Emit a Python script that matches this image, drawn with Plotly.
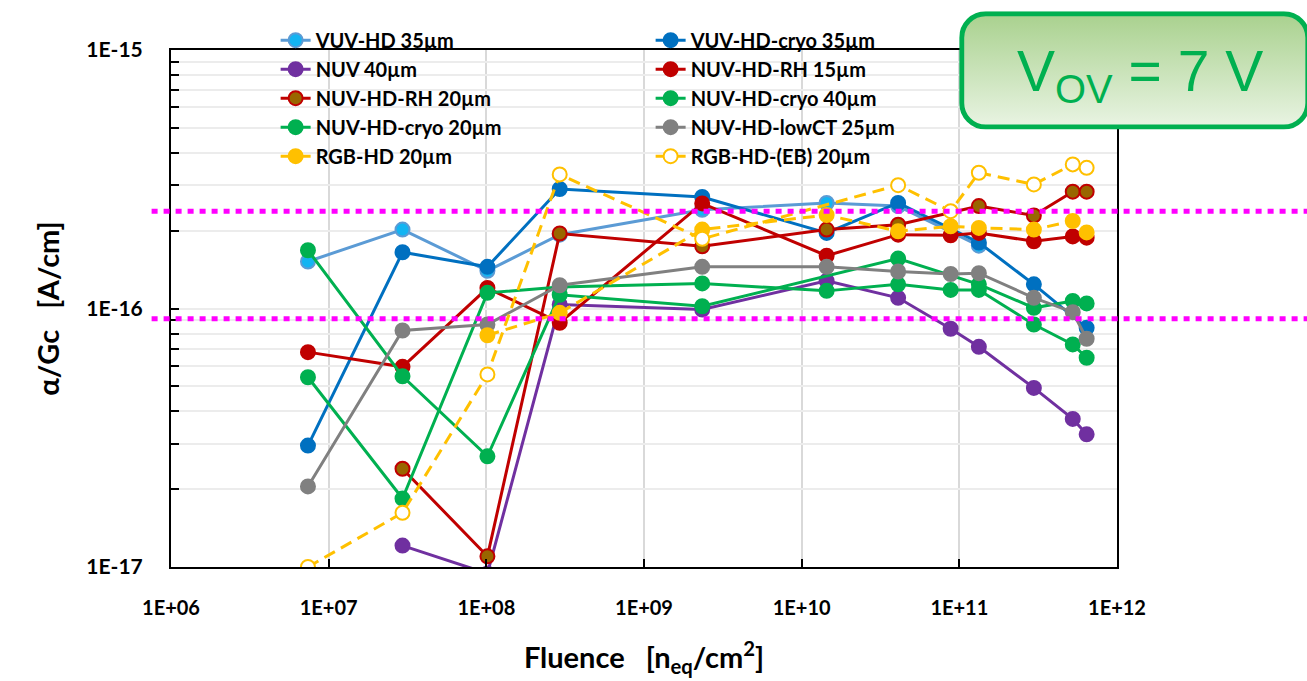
import base64
import plotly.graph_objects as go

# Fluence points [n_eq/cm^2]
fluence = [7.39e6, 2.94e7, 1.016e8, 2.92e8, 2.34e9, 1.44e10,
           4.09e10, 8.81e10, 1.33e11, 2.97e11, 5.24e11, 6.42e11]

# alpha/Gc [A/cm] per device (None = not measured)
vuv_hd_35 = [1.52e-16, 2.02e-16, 1.40e-16, 1.93e-16, 2.41e-16, 2.56e-16,
             2.49e-16, None, 1.75e-16, None, None, None]
vuv_hd_cryo_35 = [2.95e-17, 1.65e-16, 1.45e-16, 2.90e-16, 2.70e-16, 1.96e-16,
                  2.56e-16, None, 1.80e-16, 1.24e-16, None, 8.42e-17]
nuv_40 = [None, 1.21e-17, 9.44e-18, 1.036e-16, 9.91e-17, 1.28e-16,
          1.10e-16, 8.35e-17, 7.11e-17, 4.93e-17, 3.74e-17, 3.26e-17]
nuv_hd_rh_15 = [6.78e-17, 5.95e-17, 1.20e-16, 8.81e-17, 2.55e-16, 1.60e-16,
                1.93e-16, 1.92e-16, 1.96e-16, 1.82e-16, 1.90e-16, 1.88e-16]
nuv_hd_rh_20 = [None, 2.40e-17, 1.10e-17, 1.95e-16, 1.74e-16, 2.02e-16,
                2.11e-16, None, 2.49e-16, 2.29e-16, 2.83e-16, 2.83e-16]
nuv_hd_cryo_40 = [1.68e-16, 5.47e-17, 2.68e-17, 1.13e-16, 1.02e-16, None,
                  1.56e-16, None, 1.24e-16, 1.006e-16, 1.07e-16, 1.046e-16]
nuv_hd_cryo_20 = [5.42e-17, 1.84e-17, 1.15e-16, 1.21e-16, 1.25e-16, 1.17e-16,
                  1.24e-16, 1.18e-16, 1.18e-16, 8.67e-17, 7.26e-17, 6.45e-17]
nuv_hd_lowct_25 = [2.05e-17, 8.22e-17, 8.67e-17, 1.23e-16, 1.45e-16, 1.45e-16,
                   1.39e-16, 1.36e-16, 1.37e-16, 1.10e-16, 9.68e-17, 7.64e-17]
rgb_hd_20 = [None, None, 7.88e-17, 9.62e-17, 2.02e-16, 2.30e-16,
             1.99e-16, 2.08e-16, 2.05e-16, 2.02e-16, 2.18e-16, 1.97e-16]
rgb_hd_eb_20 = [1.0e-17, 1.62e-17, 5.56e-17, 3.30e-16, 1.86e-16, None,
                3.0e-16, 2.38e-16, 3.35e-16, 3.02e-16, 3.61e-16, 3.50e-16]

# Reference band levels
band_levels = [2.38e-16, 9.13e-17]

x_tick_vals = [1e6, 1e7, 1e8, 1e9, 1e10, 1e11, 1e12]
x_tick_text = ["1E+06", "1E+07", "1E+08", "1E+09", "1E+10", "1E+11", "1E+12"]
y_major = {1e-17: "1E-17", 1e-16: "1E-16", 1e-15: "1E-15"}

FONT = "Lato"

series = [
    # name, values, line colour, marker fill, marker outline, dash
    ("VUV-HD 35µm", vuv_hd_35, "#5b9bd5", "#13b4f2", "#5b9bd5", "solid"),
    ("VUV-HD-cryo 35µm", vuv_hd_cryo_35, "#0070c0", "#0070c0", "#0070c0", "solid"),
    ("NUV 40µm", nuv_40, "#7030a0", "#7030a0", "#7030a0", "solid"),
    ("NUV-HD-RH 15µm", nuv_hd_rh_15, "#c00000", "#c00000", "#c00000", "solid"),
    ("NUV-HD-RH 20µm", nuv_hd_rh_20, "#c00000", "#996600", "#c00000", "solid"),
    ("NUV-HD-cryo 40µm", nuv_hd_cryo_40, "#00b050", "#00b050", "#00b050", "solid"),
    ("NUV-HD-cryo 20µm", nuv_hd_cryo_20, "#00b050", "#00b050", "#00b050", "solid"),
    ("NUV-HD-lowCT 25µm", nuv_hd_lowct_25, "#808080", "#808080", "#808080", "solid"),
    ("RGB-HD 20µm", rgb_hd_20, "#ffc000", "#ffc000", "#ffc000", "12px,7px"),
    ("RGB-HD-(EB) 20µm", rgb_hd_eb_20, "#ffc000", "#ffffff", "#ffc000", "12px,7px"),
]

fig = go.Figure()
for name, vals, lcol, mfill, mline, dash in series:
    fig.add_trace(go.Scatter(
        x=fluence, y=vals, name=name, mode="lines+markers",
        connectgaps=True,
        line=dict(color=lcol, width=3, dash=dash),
        marker=dict(size=14, color=mfill, line=dict(color=mline, width=2)),
    ))

# Dotted magenta band limits, running past the plot frame
for lvl in band_levels:
    fig.add_shape(type="line", xref="paper", yref="y",
                  x0=-0.0205, x1=1.21, y0=lvl, y1=lvl,
                  line=dict(color="#ff00ff", width=5, dash="6px,6px"),
                  layer="above")

# Y ticks at every 1..9 step of each decade, labels only on decades
y_tick_vals, y_tick_text = [], []
for e in (-17, -16):
    for m in range(1, 10):
        v = m * 10.0 ** e
        y_tick_vals.append(v)
        y_tick_text.append(y_major.get(v, "") if m == 1 else "")
y_tick_vals.append(1e-15)
y_tick_text.append("1E-15")

# Rounded, gradient-filled label box
box_svg = (
    "<svg xmlns='http://www.w3.org/2000/svg' width='351' height='118' viewBox='0 0 351 118'>"
    "<defs><linearGradient id='g' x1='0' y1='0' x2='0' y2='1'>"
    "<stop offset='0' stop-color='#a9d18e'/><stop offset='1' stop-color='#e9f4e3'/>"
    "</linearGradient></defs>"
    "<rect x='2.5' y='2.5' width='346' height='113' rx='24' ry='24' fill='url(#g)' "
    "stroke='#00b050' stroke-width='5'/></svg>"
)
box_src = "data:image/svg+xml;base64," + base64.b64encode(box_svg.encode()).decode()
fig.add_layout_image(dict(source=box_src, xref="paper", yref="paper",
                          x=0.8332, y=1.0751, sizex=0.3712, sizey=0.2288,
                          xanchor="left", yanchor="top", sizing="stretch",
                          layer="above"))
fig.add_annotation(xref="paper", yref="paper", x=1.0243, y=0.952,
                   text="V<sub>OV</sub> = 7 V", showarrow=False,
                   font=dict(family="Liberation Sans", size=57, color="#00b050"),
                   xanchor="center", yanchor="middle")

fig.update_layout(
    width=1307, height=681, autosize=False,
    margin=dict(l=171, r=190, t=50, b=114, autoexpand=False),
    paper_bgcolor="white", plot_bgcolor="white",
    font=dict(family=FONT, color="black"),
    showlegend=True,
    legend=dict(orientation="h", x=0.1106, y=1.0567, xanchor="left", yanchor="top",
                entrywidth=330, entrywidthmode="pixels",
                bgcolor="rgba(0,0,0,0)",
                font=dict(family=FONT, size=20, weight="bold", color="black"),
                traceorder="normal"),
    xaxis=dict(type="log", range=[6, 12],
               tickvals=x_tick_vals, ticktext=x_tick_text,
               ticks="inside", ticklen=8, tickwidth=2, tickcolor="black",
               ticklabelstandoff=22,
               showgrid=True, gridcolor="#d9d9d9", gridwidth=2,
               showline=True, linecolor="black", linewidth=2, mirror=True,
               tickfont=dict(family=FONT, size=20, weight="bold"),
               title=dict(text="Fluence\u00a0\u00a0 [n<sub>eq</sub>/cm<sup>2</sup>]",
                          font=dict(family=FONT, size=29, weight="bold"),
                          standoff=30),
               zeroline=False),
    yaxis=dict(type="log", range=[-17, -15],
               tickvals=y_tick_vals, ticktext=y_tick_text,
               ticks="inside", ticklen=8, tickwidth=2, tickcolor="black",
               ticklabelstandoff=22,
               showgrid=True, gridcolor="#ececec", gridwidth=2,
               showline=True, linecolor="black", linewidth=2, mirror=True,
               tickfont=dict(family=FONT, size=21, weight="bold"),
               title=dict(text="α/Gc\u00a0\u00a0 [A/cm]",
                          font=dict(family=FONT, size=29, weight="bold"),
                          standoff=18),
               zeroline=False),
)

fig.write_html("out.html")
